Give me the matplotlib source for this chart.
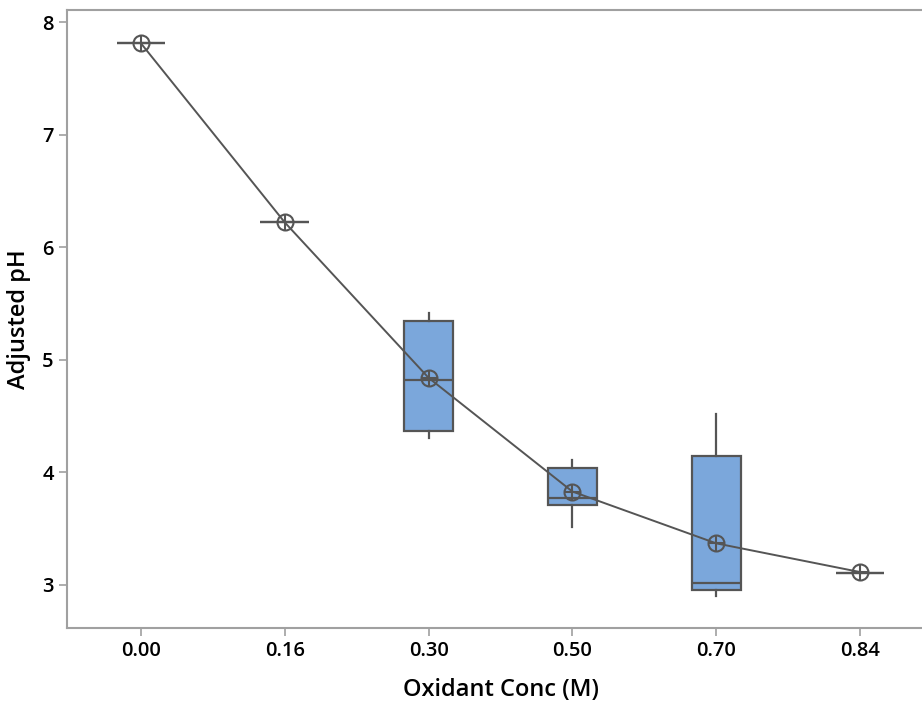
import matplotlib.pyplot as plt
import numpy as np

plt.rcParams['font.family'] = ['Open Sans', 'DejaVu Sans']

conc_labels = ["0.00", "0.16", "0.30", "0.50", "0.70", "0.84"]
means = [7.81, 6.22, 4.84, 3.83, 3.37, 3.115]
medians = [7.81, 6.22, 4.82, 3.77, 3.02, 3.11]
q1 = [7.81, 6.22, 4.37, 3.71, 2.955, 3.11]
q3 = [7.81, 6.22, 5.345, 4.04, 4.146, 3.11]
whislo = [7.81, 6.22, 4.305, 3.515, 2.90, 3.11]
whishi = [7.81, 6.22, 5.415, 4.11, 4.52, 3.11]

edge = "#555555"
fill = "#7BA7DB"

fig = plt.figure(figsize=(9.22, 7.03), dpi=100)
ax = fig.add_axes([67 / 922, 75 / 703, 867 / 922, 618 / 703])

stats = []
for i in range(len(conc_labels)):
    stats.append(dict(med=medians[i], q1=q1[i], q3=q3[i],
                      whislo=whislo[i], whishi=whishi[i], mean=means[i], fliers=[]))

pos = np.arange(len(conc_labels))
ax.bxp(stats, positions=pos, widths=0.34, showcaps=False, showfliers=False,
       patch_artist=True,
       boxprops=dict(facecolor=fill, edgecolor=edge, linewidth=1.6),
       medianprops=dict(color=edge, linewidth=1.6),
       whiskerprops=dict(color=edge, linewidth=1.6))

ax.plot(pos, means, color=edge, linewidth=1.4, zorder=4)
ax.plot(pos, means, linestyle="none", marker="o", markersize=11.5,
        markerfacecolor="none", markeredgecolor=edge, markeredgewidth=1.5, zorder=5)
ax.plot(pos, means, linestyle="none", marker="+", markersize=11.5,
        markeredgecolor=edge, markeredgewidth=1.5, zorder=5)

ax.set_xlim(-0.515, 5.515)
ax.set_ylim(2.618, 8.107)
ax.set_xticks(pos)
ax.set_xticklabels(conc_labels)
ax.set_yticks([3, 4, 5, 6, 7, 8])

for s in ax.spines.values():
    s.set_color("#A0A0A0")
    s.set_linewidth(1.5)
ax.tick_params(colors="#A0A0A0", labelcolor="black", labelsize=14.5, length=6, width=1.2)
for lbl in ax.get_xticklabels() + ax.get_yticklabels():
    lbl.set_fontweight("semibold")

ax.set_xlabel("Oxidant Conc (M)", fontsize=17, fontweight="semibold", labelpad=12)
ax.set_ylabel("Adjusted pH", fontsize=17, fontweight="semibold", labelpad=8)

plt.savefig("out.png", dpi=100)
